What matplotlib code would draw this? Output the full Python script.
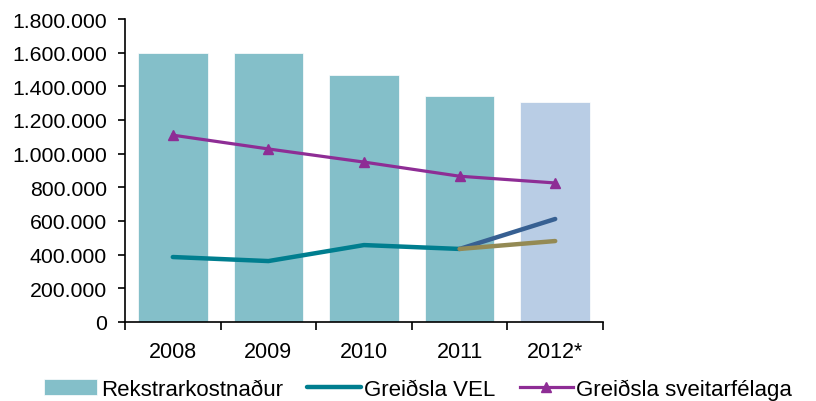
from matplotlib import pyplot as plt
import numpy as np

plt.rcParams['font.family'] = ['Liberation Sans', 'DejaVu Sans']

# Data
years = ['2008', '2009', '2010', '2011', '2012*']
rekstur = [1600000, 1600000, 1470000, 1340000, 1305000]
vel = [386000, 362000, 457000, 434000]
vel_2012_high = [434000, 612000]
vel_2012_low = [434000, 481000]
sveitarfelog = [1110000, 1028000, 950000, 866000, 826000]
yticks = np.arange(0, 1800001, 200000)

bar_colors = ['#84BFC9'] * 4 + ['#B9CDE5']

fig = plt.figure(figsize=(8.16, 4.02), dpi=100)
ax = fig.add_axes([125 / 816, 1 - 323 / 402, 478 / 816, 303 / 402])

x = np.arange(len(years))
bars = ax.bar(x, rekstur, width=0.73, color=bar_colors, edgecolor='white', linewidth=0.5,
              label='Rekstrarkostnaður', zorder=1)
l_vel, = ax.plot(x[:4], vel, color='#007E8F', lw=3.2, solid_capstyle='round',
                 label='Greiðsla VEL', zorder=3)
ax.plot(x[3:], vel_2012_high, color='#376092', lw=3.2, solid_capstyle='round', zorder=3)
ax.plot(x[3:], vel_2012_low, color='#948A54', lw=3.2, solid_capstyle='round', zorder=3)
l_sv, = ax.plot(x, sveitarfelog, color='#8E2D95', lw=2.3, marker='^', markersize=7,
                label='Greiðsla sveitarfélaga', zorder=4)

ax.set_xlim(-0.5, 4.5)
ax.set_ylim(0, 1800000)
ax.set_yticks(yticks)
ax.set_yticklabels([f'{v:,}'.replace(',', '.') for v in yticks])
ax.set_xticks(x)
ax.set_xticklabels(years)
ax.set_xticks(np.arange(-0.5, 5, 1), minor=True)
ax.tick_params(axis='x', which='major', length=0, pad=14, labelsize=15.5)
ax.tick_params(axis='x', which='minor', length=6, width=1.2, direction='out')
ax.tick_params(axis='y', length=5, width=1.2, direction='out', labelsize=15.3, pad=8)

for s in ['top', 'right']:
    ax.spines[s].set_visible(False)
for s in ['left', 'bottom']:
    ax.spines[s].set_linewidth(1.2)

fig.legend([bars, l_vel, l_sv], ['Rekstrarkostnaður', 'Greiðsla VEL', 'Greiðsla sveitarfélaga'],
           loc='center left', bbox_to_anchor=(0.054, 0.029), ncol=3, frameon=False,
           fontsize=16, handlelength=2.4, handletextpad=0.15, columnspacing=1.1,
           borderaxespad=0, borderpad=0)

fig.savefig('out.png', dpi=100)
